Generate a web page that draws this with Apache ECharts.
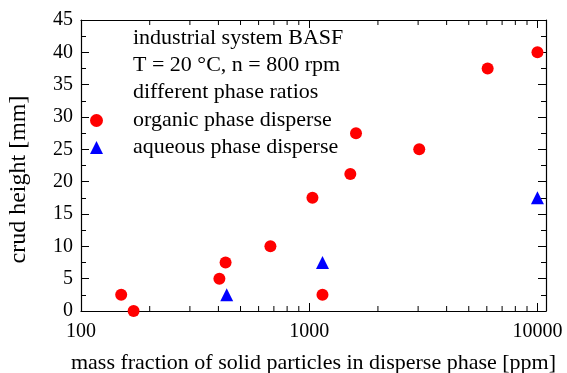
<!DOCTYPE html>
<html>
<head>
<meta charset="utf-8">
<script src="https://cdn.jsdelivr.net/npm/echarts@6/dist/echarts.min.js"></script>
<style>
  html, body { margin: 0; padding: 0; background: #fff; }
  #chart { width: 567px; height: 373px; }
</style>
</head>
<body>
<div id="chart"></div>
<script>
// values
const organicX = [150, 170, 404, 430, 676, 1033, 1143, 1514, 1603, 3034, 6050, 10000]
const organicY = [2.5, 0, 5, 7.5, 10, 17.5, 2.5, 21.2, 27.5, 25, 37.5, 40]
const aqueousX = [435, 1143, 10000]
const aqueousY = [2.5, 7.5, 17.5]
const xLabels = [100, 1000, 10000]
const xMinorTicks = [200, 300, 400, 500, 600, 700, 800, 900, 2000, 3000, 4000, 5000, 6000, 7000, 8000, 9000]
const noteLines = ['industrial system BASF', 'T = 20 °C, n = 800 rpm', 'different phase ratios']

const FONT = '"Liberation Serif", "Times New Roman", serif'
const X_MIN = 100
const X_MAX = 10900
const Y_MIN = 0
const Y_MAX = 45

const chart = echarts.init(document.getElementById('chart'), null, { renderer: 'canvas' })

const axisLine = { show: true, onZero: false, lineStyle: { color: '#000', width: 1.2 } }
const tick = { show: true, inside: true, length: 8, lineStyle: { color: '#000', width: 1 } }
const minor = { show: true, length: 5, lineStyle: { color: '#000', width: 1 } }

const zip = (xs, ys) => xs.map((x, i) => [x, ys[i]])

chart.setOption({
  animation: false,
  backgroundColor: '#fff',
  textStyle: { fontFamily: FONT },
  grid: { left: 81, right: 21, top: 20, bottom: 62, outerBoundsMode: 'none', containLabel: false },
  title: {
    text: noteLines.join('\n'),
    left: 133,
    top: 25,
    padding: 0,
    textStyle: { fontFamily: FONT, fontSize: 22, fontWeight: 'normal', color: '#000', lineHeight: 27 },
  },
  legend: {
    orient: 'vertical',
    left: 90,
    top: 107,
    padding: 0,
    itemGap: 0,
    itemWidth: 13,
    itemHeight: 13,
    data: ['organic phase disperse', 'aqueous phase disperse'],
    textStyle: { fontFamily: FONT, fontSize: 22, color: '#000', lineHeight: 27, padding: [0, 0, 0, 25] },
  },
  xAxis: [
    {
      type: 'log',
      logBase: 10,
      min: X_MIN,
      max: X_MAX,
      position: 'bottom',
      axisLine,
      axisTick: tick,
      splitLine: { show: false },
      axisLabel: {
        color: '#000',
        fontFamily: FONT,
        fontSize: 20,
        margin: 11,
        showMaxLabel: false,
        formatter: (v) => {
          const r = Math.round(v)
          return xLabels.includes(r) ? String(r) : ''
        },
      },
      name: 'mass fraction of solid particles in disperse phase [ppm]',
      nameLocation: 'middle',
      nameGap: 41,
      nameTextStyle: { color: '#000', fontFamily: FONT, fontSize: 22 },
    },
    {
      type: 'log',
      logBase: 10,
      min: X_MIN,
      max: X_MAX,
      position: 'top',
      axisLine,
      axisTick: tick,
      axisLabel: { show: false },
      splitLine: { show: false },
    },
  ],
  yAxis: [
    {
      type: 'value',
      min: Y_MIN,
      max: Y_MAX,
      interval: 5,
      position: 'left',
      axisLine,
      axisTick: tick,
      minorTick: { ...minor, splitNumber: 2 },
      splitLine: { show: false },
      axisLabel: { color: '#000', fontFamily: FONT, fontSize: 20, margin: 8 },
      name: 'crud height [mm]',
      nameLocation: 'middle',
      nameGap: 50,
      nameTextStyle: { color: '#000', fontFamily: FONT, fontSize: 24, padding: [0, 0, 0, -28] },
    },
    {
      type: 'value',
      min: Y_MIN,
      max: Y_MAX,
      interval: 5,
      position: 'right',
      axisLine,
      axisTick: tick,
      minorTick: { ...minor, splitNumber: 2 },
      axisLabel: { show: false },
      splitLine: { show: false },
    },
  ],
  series: [
    {
      name: 'organic phase disperse',
      type: 'scatter',
      symbol: 'circle',
      symbolSize: 12,
      itemStyle: { color: '#ff0000', opacity: 1 },
      data: zip(organicX, organicY),
      clip: false,
      z: 5,
    },
    {
      name: 'aqueous phase disperse',
      type: 'scatter',
      symbol: 'triangle',
      symbolSize: 13,
      itemStyle: { color: '#0000ff', opacity: 1 },
      data: zip(aqueousX, aqueousY),
      clip: false,
      z: 5,
    },
    {
      // log minor ticks (2..9 per decade) on bottom and top axes
      name: 'minor',
      type: 'custom',
      silent: true,
      clip: false,
      data: xMinorTicks.map((v) => [v, Y_MIN]),
      renderItem: (params, api) => {
        const v = api.value(0)
        const b = api.coord([v, Y_MIN])
        const t = api.coord([v, Y_MAX])
        const style = { stroke: '#000', lineWidth: 1 }
        return {
          type: 'group',
          children: [
            { type: 'line', shape: { x1: b[0], y1: b[1], x2: b[0], y2: b[1] - 5 }, style },
            { type: 'line', shape: { x1: t[0], y1: t[1], x2: t[0], y2: t[1] + 5 }, style },
          ],
        }
      },
    },
  ],
})
</script>
</body>
</html>
